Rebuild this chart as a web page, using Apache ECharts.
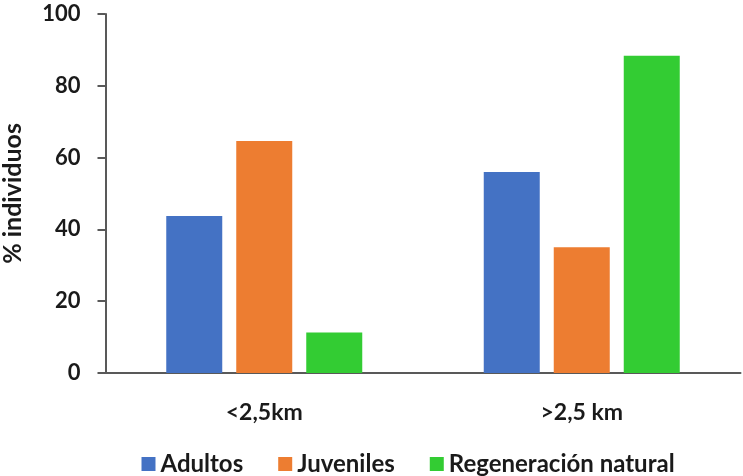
<!DOCTYPE html>
<html>
<head>
<meta charset="utf-8">
<script src="https://cdn.jsdelivr.net/npm/echarts@6/dist/echarts.min.js"></script>
<style>html,body{margin:0;padding:0;background:#fff}#c{width:743px;height:476px}</style>
</head>
<body>
<div id="c"></div>
<script>
const categories = ['<2,5km', '>2,5 km'];
const adultos = [43.7, 56.0];
const juveniles = [64.6, 35.0];
const regeneracion = [11.3, 88.4];
const seriesNames = ['Adultos', 'Juveniles', 'Regeneración natural'];
const yTicks = { min: 0, max: 100, interval: 20 };
const yTitle = '% individuos';

const FONT = 'Lato';
const chart = echarts.init(document.getElementById('c'), null, { renderer: 'canvas' });
const barStyle = (color) => ({ color });
chart.setOption({
  animation: false,
  backgroundColor: '#ffffff',
  textStyle: { fontFamily: FONT },
  grid: { left: 105.5, right: 2.5, top: 14, bottom: 103, containLabel: false, outerBoundsMode: 'none' },
  legend: {
    data: seriesNames,
    left: 141.5, top: 452, padding: 0,
    itemWidth: 14, itemHeight: 14, itemGap: 35,
    icon: 'rect',
    textStyle: { fontFamily: FONT, fontSize: 24, fontWeight: 'bold', color: '#1a1a1a' }
  },
  xAxis: {
    type: 'category',
    data: categories,
    axisLine: { lineStyle: { color: '#595959', width: 2 } },
    axisTick: { show: false },
    axisLabel: { fontFamily: FONT, fontSize: 23, fontWeight: 'bold', color: '#1a1a1a', margin: 28 }
  },
  yAxis: {
    type: 'value',
    min: yTicks.min, max: yTicks.max, interval: yTicks.interval,
    name: yTitle,
    nameLocation: 'middle',
    nameGap: 80,
    nameTextStyle: { fontFamily: FONT, fontSize: 25, fontWeight: 'bold', color: '#1a1a1a' },
    axisLine: { show: true, lineStyle: { color: '#595959', width: 2 } },
    axisTick: { show: true, length: 8, lineStyle: { color: '#595959', width: 2 } },
    splitLine: { show: false },
    axisLabel: { fontFamily: FONT, fontSize: 22, fontWeight: 'bold', color: '#1a1a1a', margin: 25 }
  },
  series: [
    { name: seriesNames[0], type: 'bar', data: adultos, barWidth: 56, barGap: '25%', itemStyle: barStyle('#4472C4') },
    { name: seriesNames[1], type: 'bar', data: juveniles, barWidth: 56, barGap: '25%', itemStyle: barStyle('#ED7D31') },
    { name: seriesNames[2], type: 'bar', data: regeneracion, barWidth: 56, barGap: '25%', itemStyle: barStyle('#33CC33') }
  ]
});
</script>
</body>
</html>
